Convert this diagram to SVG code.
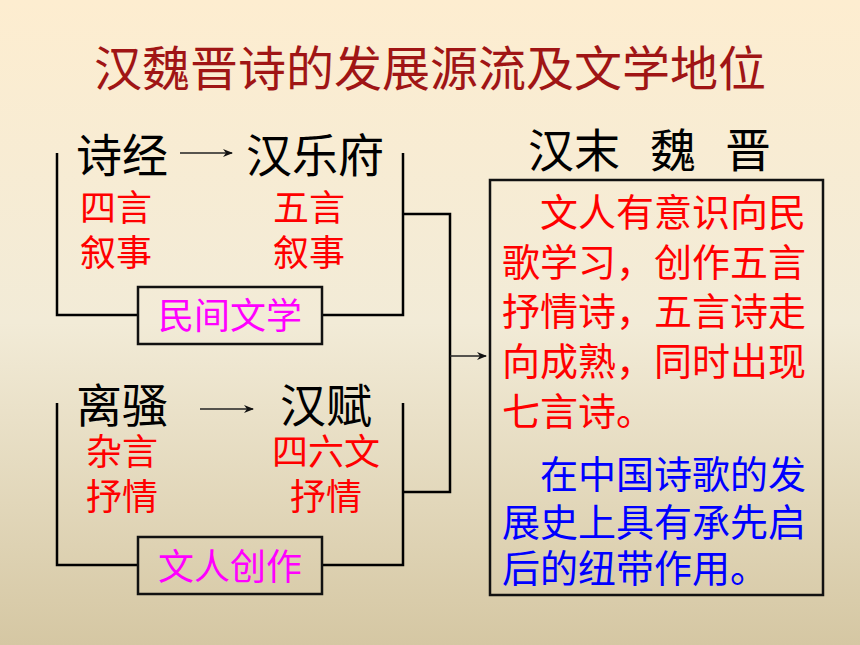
<svg xmlns="http://www.w3.org/2000/svg" width="860" height="645" viewBox="0 0 860 645">
<defs>
<linearGradient id="bg" x1="0" y1="0" x2="0" y2="1">
<stop offset="0" stop-color="#FDEDD0"/>
<stop offset="0.5" stop-color="#F2EBD7"/>
<stop offset="1" stop-color="#D5C7A3"/>
</linearGradient>
<marker id="ah" viewBox="0 0 10 8" refX="9" refY="4" markerWidth="10" markerHeight="8" markerUnits="userSpaceOnUse" orient="auto">
<path d="M0,0 L10,4 L0,8 L3,4 Z" fill="#111"/>
</marker>
<style>
text{font-family:"Noto Sans CJK SC","Noto Sans CJK JP",sans-serif}
.big{font-size:46px;fill:#000}
.red{font-size:36px;fill:#FF0000}
.mag{font-size:36px;fill:#FF00FF;text-anchor:middle}
.para{font-size:38px}
.line{fill:none;stroke:#000;stroke-width:2.5}
.thin{fill:none;stroke:#222;stroke-width:1.5}
.box{fill:none;stroke:#111;stroke-width:2.5}
</style>
</defs>
<rect x="0" y="0" width="860" height="645" fill="url(#bg)"/>
<text id="title" x="430" y="86" text-anchor="middle" style="font-size:48px;fill:#A01515">汉魏晋诗的发展源流及文学地位</text>

<g id="connectors">
<path class="line" d="M57,153 V315 H138"/>
<path class="line" d="M322,315 H403 V153"/>
<path class="line" d="M403,214 H450 V492 H403"/>
<path class="line" d="M57,403 V565 H138"/>
<path class="line" d="M322,565 H403 V403"/>
<path class="thin" d="M450,356 H486" marker-end="url(#ah)"/>
<path class="thin" d="M180,153 H232" marker-end="url(#ah)"/>
<path class="thin" d="M200,409 H253" marker-end="url(#ah)"/>
</g>

<g id="shijing">
<text class="big" x="76" y="172">诗经</text>
<text class="red" x="80" y="221">四言</text>
<text class="red" x="80" y="266">叙事</text>
</g>
<g id="hanyuefu">
<text class="big" x="246" y="172">汉乐府</text>
<text class="red" x="273" y="221">五言</text>
<text class="red" x="273" y="266">叙事</text>
</g>
<g id="minjian">
<rect class="box" x="138" y="287" width="184" height="57"/>
<text class="mag" x="230" y="329">民间文学</text>
</g>
<g id="lisao">
<text class="big" x="76" y="422">离骚</text>
<text class="red" x="86" y="465">杂言</text>
<text class="red" x="86" y="510">抒情</text>
</g>
<g id="hanfu">
<text class="big" x="280" y="422">汉赋</text>
<text class="red" x="272" y="465">四六文</text>
<text class="red" x="290" y="510">抒情</text>
</g>
<g id="wenren">
<rect class="box" x="138" y="537" width="184" height="57"/>
<text class="mag" x="230" y="580">文人创作</text>
</g>
<g id="weijin">
<text class="big" x="528" y="167">汉末 <tspan x="650">魏</tspan> <tspan x="725">晋</tspan></text>
<rect class="box" x="490" y="180" width="333" height="415"/>
<g class="para" fill="#FF0000">
<text x="540" y="226">文人有意识向民</text>
<text x="502" y="276">歌学习，创作五言</text>
<text x="502" y="325">抒情诗，五言诗走</text>
<text x="502" y="375">向成熟，同时出现</text>
<text x="502" y="425">七言诗。</text>
</g>
<g class="para" fill="#0000FF">
<text x="540" y="488">在中国诗歌的发</text>
<text x="502" y="536">展史上具有承先启</text>
<text x="502" y="582">后的纽带作用。</text>
</g>
</g>
</svg>
